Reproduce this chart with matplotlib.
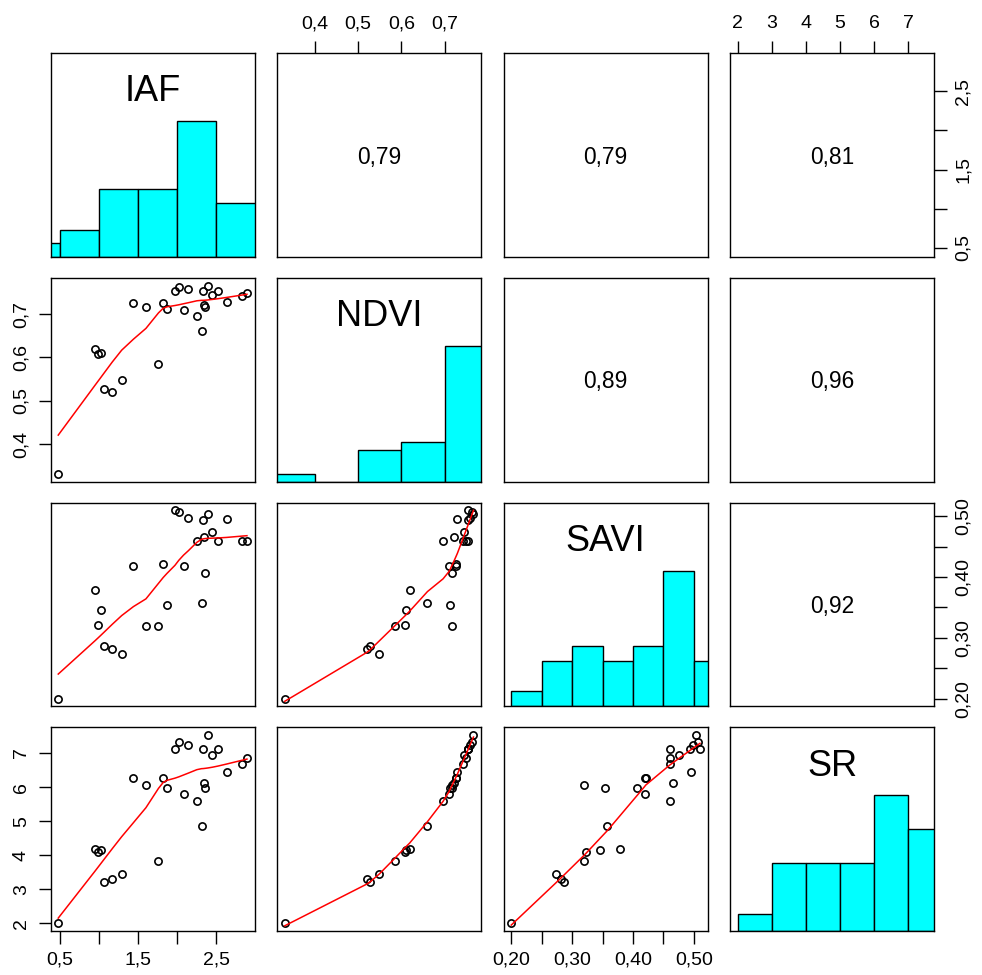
import numpy as np
import matplotlib
matplotlib.use('Agg')
import matplotlib.pyplot as plt

plt.rcParams['font.family'] = ['Liberation Sans', 'DejaVu Sans']

# datos (27 parcelas)
iaf = [0.48, 0.95, 0.99, 1.02, 1.06, 1.17, 1.29, 1.44, 1.60, 1.76, 1.82, 1.87, 1.97, 2.02,
       2.08, 2.14, 2.25, 2.31, 2.33, 2.34, 2.36, 2.39, 2.45, 2.52, 2.63, 2.83, 2.89]
ndvi = [0.331, 0.619, 0.609, 0.610, 0.528, 0.520, 0.549, 0.726, 0.717, 0.586, 0.726, 0.712, 0.754, 0.762,
        0.709, 0.758, 0.696, 0.660, 0.754, 0.722, 0.716, 0.766, 0.745, 0.754, 0.729, 0.741, 0.748]
savi = [0.200, 0.378, 0.322, 0.346, 0.287, 0.281, 0.273, 0.419, 0.320, 0.320, 0.421, 0.354, 0.510, 0.507,
        0.419, 0.498, 0.460, 0.358, 0.494, 0.466, 0.407, 0.504, 0.475, 0.460, 0.495, 0.460, 0.460]
sr = [2.00, 4.19, 4.10, 4.15, 3.20, 3.30, 3.46, 6.28, 6.07, 3.82, 6.28, 5.96, 7.11, 7.33,
      5.80, 7.22, 5.59, 4.87, 7.11, 6.13, 5.96, 7.53, 6.95, 7.11, 6.43, 6.68, 6.85]

nombres = ['IAF', 'NDVI', 'SAVI', 'SR']
datos = [iaf, ndvi, savi, sr]

# correlaciones tal como aparecen en el panel superior
correlaciones = {(0, 1): 0.79, (0, 2): 0.79, (0, 3): 0.81,
                 (1, 2): 0.89, (1, 3): 0.96, (2, 3): 0.92}

# cortes del histograma (como pretty() de R)
cortes = [[0.0, 0.5, 1.0, 1.5, 2.0, 2.5, 3.0],
          [0.3, 0.4, 0.5, 0.6, 0.7, 0.8],
          [0.20, 0.25, 0.30, 0.35, 0.40, 0.45, 0.50, 0.55],
          [2, 3, 4, 5, 6, 7, 8]]

marcas = [[0.5, 1.0, 1.5, 2.0, 2.5],
          [0.4, 0.5, 0.6, 0.7],
          [0.20, 0.25, 0.30, 0.35, 0.40, 0.45, 0.50],
          [2, 3, 4, 5, 6, 7]]
etiquetas = [['0,5', '', '1,5', '', '2,5'],
             ['0,4', '0,5', '0,6', '0,7'],
             ['0,20', '', '0,30', '', '0,40', '', '0,50'],
             ['2', '3', '4', '5', '6', '7']]


def lowess(x, y, f=2/3, iters=3):
    orden = np.argsort(x, kind='stable')
    xs = np.asarray(x, float)[orden]
    ys = np.asarray(y, float)[orden]
    n = len(xs)
    ns = max(min(int(f*n + 1e-7), n), 2)
    rw = np.ones(n)
    fit = np.zeros(n)
    rango = xs[-1] - xs[0]
    for it in range(iters + 1):
        for i in range(n):
            d = np.abs(xs - xs[i])
            h = np.sort(d)[ns - 1]
            w = np.zeros(n)
            dentro = d <= 0.999*h
            w[dentro] = (1 - (d[dentro]/h)**3)**3
            w[d <= 0.001*h] = 1
            w = w*rw
            if w.sum() <= 0:
                fit[i] = ys[i]
                continue
            w = w/w.sum()
            xm = np.sum(w*xs)
            c = np.sum(w*(xs - xm)**2)
            if np.sqrt(c) > 0.001*rango:
                b = np.sum(w*(xs - xm)*ys)/c
            else:
                b = 0.0
            fit[i] = np.sum(w*ys) + b*(xs[i] - xm)
        if it == iters:
            break
        res = ys - fit
        cmad = 6*np.median(np.abs(res))
        if cmad < 1e-7*np.mean(np.abs(ys)):
            break
        r = np.abs(res)/cmad
        rw = np.where(r <= 0.001, 1.0, np.where(r > 0.999, 0.0, (1 - r**2)**2))
    return xs, fit


def conteos(x, br):
    # intervalos cerrados a la derecha, el primero incluye el limite inferior
    x = np.asarray(x)
    out = []
    for k in range(len(br) - 1):
        if k == 0:
            out.append(np.sum((x >= br[k]) & (x <= br[k+1])))
        else:
            out.append(np.sum((x > br[k]) & (x <= br[k+1])))
    return np.array(out, float)


W, H = 982, 975
fig = plt.figure(figsize=(W/100, H/100), dpi=100)

izq = [50.7, 277.2, 503.7, 730.2]
arr = [53.3, 278.0, 502.7, 727.4]
ancho, alto = 203.8, 203.5

lims = []
for v in datos:
    lo, hi = min(v), max(v)
    e = 0.04*(hi - lo)
    lims.append((lo - e, hi + e))

for i in range(4):
    for j in range(4):
        ax = fig.add_axes([izq[j]/W, 1 - (arr[i] + alto)/H, ancho/W, alto/H])
        for s in ax.spines.values():
            s.set_linewidth(1.0)
        ax.set_xlim(lims[j])
        ax.set_ylim(lims[i])
        ax.set_xticks([])
        ax.set_yticks([])
        if i > j:
            ax.plot(datos[j], datos[i], 'o', mfc='none', mec='black', ms=5.2, mew=1.2)
            xs, ys = lowess(datos[j], datos[i])
            ax.plot(xs, ys, color='red', lw=1.1)
        elif i < j:
            ax.text(0.5, 0.49, '{:.2f}'.format(correlaciones[(i, j)]).replace('.', ','),
                    transform=ax.transAxes, ha='center', va='center', fontsize=16.4)
        else:
            cnt = conteos(datos[i], cortes[i])
            br = np.array(cortes[i], float)
            ax.set_ylim(0, 1.5)
            ax.bar(br[:-1], cnt/cnt.max(), width=np.diff(br), align='edge',
                   color='#00FFFF', edgecolor='black', linewidth=1.0)
            ax.text(0.5, 0.81, nombres[i], transform=ax.transAxes,
                    ha='center', va='center', fontsize=26)

        ax.tick_params(direction='out', length=9, width=1.0, labelsize=14, pad=6)
        if i == 0 and j % 2 == 1:
            ax.set_xticks(marcas[j])
            ax.set_xticklabels(etiquetas[j])
            ax.tick_params(axis='x', top=True, bottom=False, labeltop=True, labelbottom=False)
        if i == 3 and j % 2 == 0:
            ax.set_xticks(marcas[j])
            ax.set_xticklabels(etiquetas[j])
        if j == 0 and i % 2 == 1:
            ax.set_yticks(marcas[i])
            ax.set_yticklabels(etiquetas[i], rotation=90, va='center')
        if j == 3 and i % 2 == 0:
            ax.set_yticks(marcas[i])
            ax.set_yticklabels(etiquetas[i], rotation=90, va='center')
            ax.tick_params(axis='y', right=True, left=False, labelright=True, labelleft=False)

fig.savefig('out.png', dpi=100)
